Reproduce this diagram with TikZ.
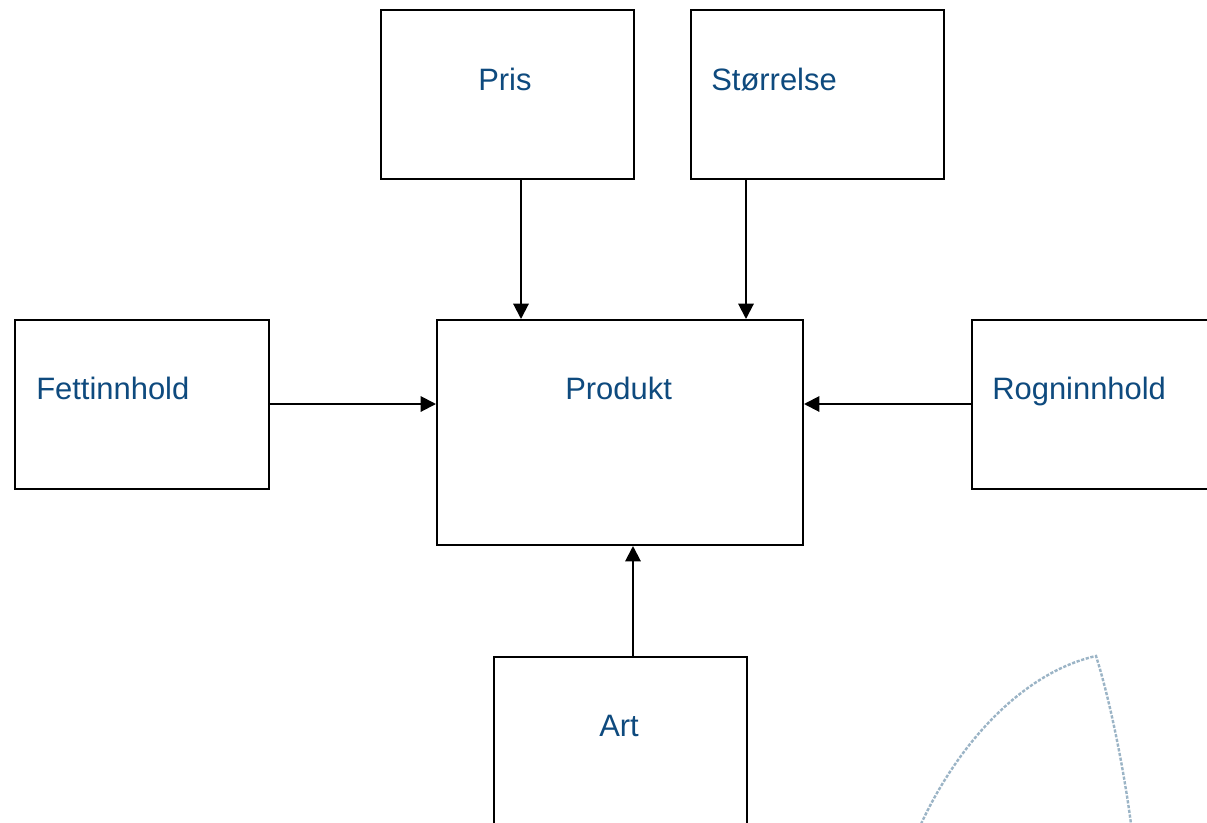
\documentclass[tikz,border=0pt]{standalone}
\usepackage{fontspec}
\setmainfont{Liberation Sans}
\usetikzlibrary{arrows.meta}
\definecolor{txtblue}{RGB}{14,74,126}
\definecolor{arcgray}{RGB}{155,180,198}
\begin{document}
\begin{tikzpicture}[x=0.75pt,y=-0.75pt,
  box/.style={draw=black,line width=1.5pt,rectangle,inner sep=0pt,anchor=north west},
  lbl/.style={text=txtblue,font=\fontsize{23.2pt}{27pt}\selectfont,anchor=base west,inner sep=0pt},
  arr/.style={line width=1.5pt,-{Triangle[length=11.5pt,width=11.5pt]}}]
\useasboundingbox (0,0) rectangle (1207,822);
\fill[white] (0,0) rectangle (1207,822);
% boxes
\node[box,minimum width=253*0.75pt,minimum height=169*0.75pt] (pris) at (380,9) {};
\node[box,minimum width=253*0.75pt,minimum height=169*0.75pt] (stor) at (690,9) {};
\node[box,minimum width=366*0.75pt,minimum height=225*0.75pt] (prod) at (436,319) {};
\node[box,minimum width=254*0.75pt,minimum height=169*0.75pt] (fett) at (14,319) {};
\node[box,minimum width=254*0.75pt,minimum height=169*0.75pt] (rogn) at (971,319) {};
\node[box,minimum width=253*0.75pt,minimum height=172*0.75pt] (art) at (493,656) {};
% labels
\node[lbl] (tpris) at (478,90) {Pris};
\node[lbl] (tstor) at (711,90) {Størrelse};
\node[lbl] (tprod) at (565,399) {Produkt};
\node[lbl] (tfett) at (36,399) {Fettinnhold};
\node[lbl] (trogn) at (992,399) {Rogninnhold};
\node[lbl] (tart) at (599,736) {Art};
% connector helpers
\coordinate (xp) at (521,0);
\coordinate (xs) at (746,0);
\coordinate (ya) at (0,404);
\coordinate (xa) at (633,0);
\draw[arr] (pris.south -| xp) -- (prod.north -| xp);
\draw[arr] (stor.south -| xs) -- (prod.north -| xs);
\draw[arr] (fett.east |- ya) -- (prod.west |- ya);
\draw[arr] (rogn.west |- ya) -- (prod.east |- ya);
\draw[arr] (art.north -| xa) -- (prod.south -| xa);
% faint dotted arc
\draw[arcgray,line width=1.8pt,dash pattern=on 2.4pt off 1.2pt]
  (921,824) .. controls (960,740) and (1025,672) .. (1096,656)
  .. controls (1110,700) and (1124,770) .. (1131,824);
\end{tikzpicture}
\end{document}
